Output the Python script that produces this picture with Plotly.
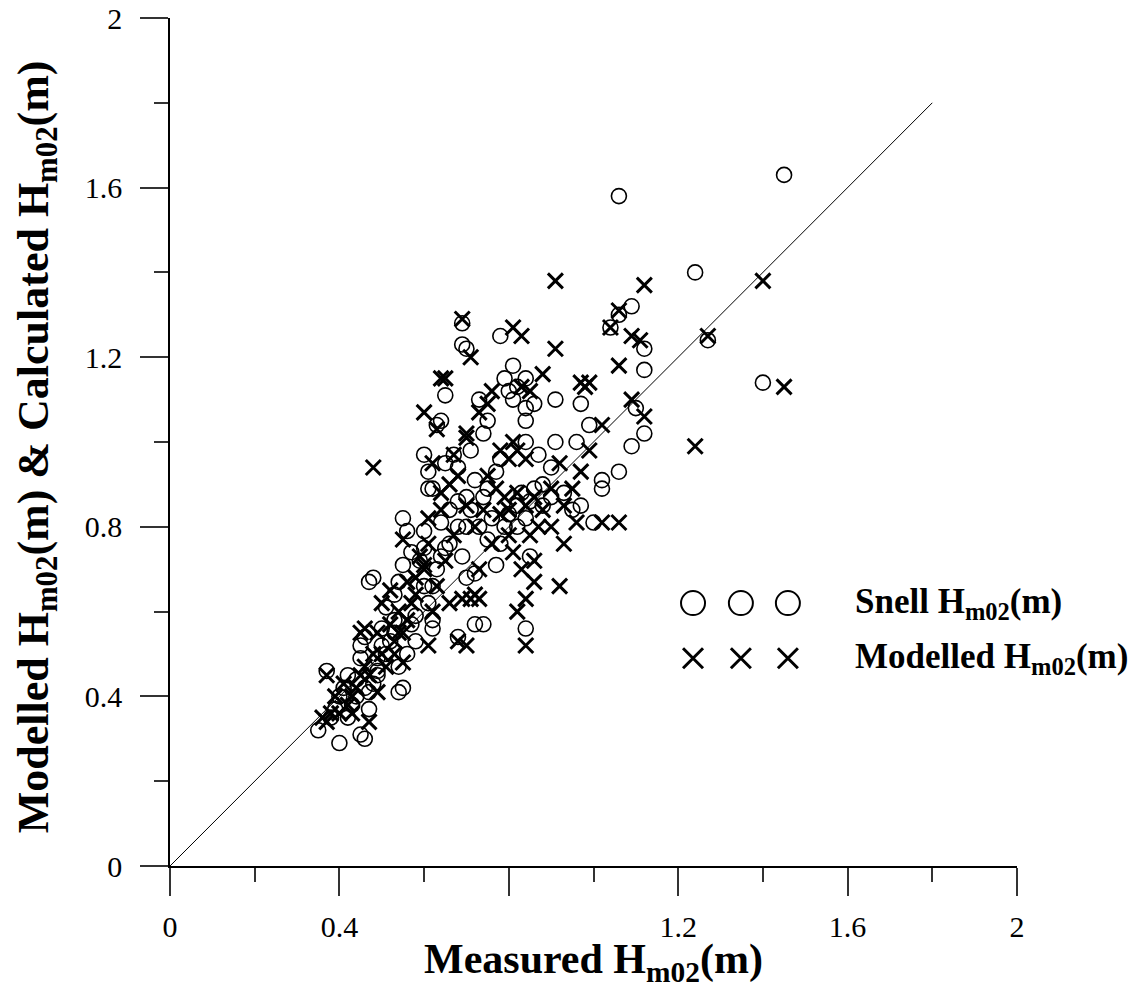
import plotly.graph_objects as go

# Snell H_m02 (circles): measured vs calculated
snell_x = [1.45, 1.06, 1.24, 1.40, 1.27, 1.09, 1.06, 1.04, 1.12, 1.12, 1.10, 1.12, 1.09, 1.06, 1.02, 1.02,
           1.00, 0.99, 0.96, 0.97, 0.97, 0.93, 0.95, 0.91, 0.91, 0.88, 0.90, 0.84, 0.85, 0.84, 0.84, 0.84,
           0.84, 0.86, 0.87, 0.78, 0.81, 0.79, 0.80, 0.81, 0.82, 0.75, 0.73, 0.74, 0.69, 0.70, 0.69, 0.65,
           0.63, 0.64, 0.60, 0.61, 0.61, 0.62, 0.65, 0.67, 0.68, 0.71, 0.72, 0.70, 0.75, 0.77, 0.78, 0.76,
           0.75, 0.77, 0.72, 0.72, 0.74, 0.68, 0.70, 0.69, 0.65, 0.63, 0.62, 0.61, 0.62, 0.62, 0.58, 0.55,
           0.56, 0.55, 0.54, 0.53, 0.51, 0.50, 0.52, 0.49, 0.47, 0.48, 0.46, 0.45, 0.45, 0.44, 0.42, 0.41,
           0.40, 0.39, 0.38, 0.37, 0.35, 0.40, 0.46, 0.45, 0.47, 0.47, 0.48, 0.54, 0.55, 0.54, 0.56, 0.58,
           0.60, 0.59, 0.57, 0.60, 0.60, 0.64, 0.66, 0.68, 0.68, 0.66, 0.64, 0.70, 0.71, 0.73, 0.74, 0.80,
           0.82, 0.83, 0.85, 0.86, 0.88, 0.90, 0.79, 0.78, 0.82, 0.84, 0.43, 0.42, 0.44, 0.46, 0.49, 0.51,
           0.53, 0.57, 0.53, 0.50, 0.49]
snell_y = [1.63, 1.58, 1.40, 1.14, 1.24, 1.32, 1.30, 1.27, 1.22, 1.17, 1.08, 1.02, 0.99, 0.93, 0.91, 0.89,
           0.81, 1.04, 1.00, 1.09, 0.85, 0.88, 0.84, 1.10, 1.00, 0.85, 0.87, 0.56, 0.73, 1.15, 1.08, 1.05,
           1.00, 1.09, 0.97, 1.25, 1.18, 1.15, 1.12, 1.10, 1.13, 1.05, 1.10, 1.02, 1.23, 1.22, 1.28, 1.11,
           1.04, 1.05, 0.97, 0.93, 0.89, 0.89, 0.95, 0.97, 0.94, 0.98, 0.91, 0.87, 0.89, 0.93, 0.96, 0.82,
           0.77, 0.71, 0.69, 0.57, 0.57, 0.54, 0.68, 0.73, 0.75, 0.70, 0.66, 0.62, 0.58, 0.56, 0.59, 0.82,
           0.79, 0.71, 0.67, 0.64, 0.61, 0.56, 0.53, 0.49, 0.67, 0.68, 0.54, 0.52, 0.49, 0.44, 0.45, 0.42,
           0.40, 0.37, 0.35, 0.46, 0.32, 0.29, 0.30, 0.31, 0.37, 0.41, 0.43, 0.41, 0.42, 0.47, 0.50, 0.53,
           0.66, 0.72, 0.74, 0.75, 0.79, 0.81, 0.84, 0.86, 0.80, 0.76, 0.73, 0.80, 0.84, 0.80, 0.87, 0.83,
           0.85, 0.88, 0.86, 0.89, 0.90, 0.94, 0.80, 0.76, 0.80, 0.82, 0.38, 0.35, 0.40, 0.42, 0.46, 0.50,
           0.55, 0.57, 0.58, 0.52, 0.45]

# Modelled H_m02 (crosses): measured vs modelled
model_x = [1.40, 1.45, 1.24, 1.27, 1.06, 1.04, 1.12, 1.11, 1.09, 1.12, 1.09, 1.06, 1.06, 1.02, 1.02, 0.99,
           0.98, 0.97, 0.99, 0.97, 0.95, 0.96, 0.93, 0.92, 0.91, 0.91, 0.88, 0.92, 0.90, 0.87, 0.86, 0.84,
           0.84, 0.86, 0.82, 0.81, 0.80, 0.81, 0.83, 0.81, 0.82, 0.84, 0.85, 0.83, 0.79, 0.78, 0.76, 0.75,
           0.73, 0.77, 0.76, 0.73, 0.72, 0.71, 0.69, 0.70, 0.68, 0.73, 0.69, 0.71, 0.70, 0.70, 0.65, 0.64,
           0.60, 0.63, 0.62, 0.66, 0.67, 0.68, 0.64, 0.65, 0.66, 0.62, 0.61, 0.60, 0.61, 0.60, 0.59, 0.56,
           0.55, 0.54, 0.54, 0.53, 0.55, 0.55, 0.57, 0.48, 0.52, 0.50, 0.49, 0.48, 0.47, 0.46, 0.45, 0.44,
           0.43, 0.42, 0.41, 0.40, 0.39, 0.38, 0.37, 0.36, 0.37, 0.47, 0.43, 0.45, 0.49, 0.51, 0.52, 0.56,
           0.58, 0.63, 0.67, 0.70, 0.72, 0.74, 0.78, 0.80, 0.82, 0.84, 0.86, 0.88, 0.90, 0.93, 0.83, 0.85,
           0.80, 0.75, 0.46, 0.50, 0.53, 0.58, 0.61, 0.64]
model_y = [1.38, 1.13, 0.99, 1.25, 1.31, 1.27, 1.37, 1.24, 1.25, 1.06, 1.10, 1.18, 0.81, 0.81, 1.04, 1.14,
           1.13, 1.14, 0.98, 0.93, 0.89, 0.81, 0.76, 0.66, 1.38, 1.22, 1.16, 0.95, 0.89, 0.80, 0.72, 0.63,
           0.52, 0.67, 0.60, 0.74, 0.78, 1.27, 1.25, 1.00, 0.98, 0.96, 1.12, 1.13, 0.87, 0.98, 1.12, 1.09,
           1.07, 0.89, 0.76, 0.70, 0.64, 0.63, 0.63, 0.52, 0.53, 0.63, 1.29, 1.20, 1.02, 1.01, 1.15, 1.15,
           1.07, 1.03, 0.95, 0.90, 0.97, 0.92, 0.84, 0.72, 0.62, 0.60, 0.52, 0.70, 0.76, 0.71, 0.73, 0.67,
           0.77, 0.60, 0.55, 0.53, 0.55, 0.48, 0.62, 0.94, 0.65, 0.62, 0.55, 0.50, 0.45, 0.47, 0.55, 0.42,
           0.40, 0.38, 0.43, 0.36, 0.40, 0.36, 0.34, 0.35, 0.45, 0.34, 0.36, 0.45, 0.41, 0.47, 0.57, 0.58,
           0.64, 0.66, 0.78, 0.85, 0.80, 0.84, 0.83, 0.84, 0.88, 0.85, 0.87, 0.84, 0.80, 0.85, 0.70, 0.78,
           0.96, 0.92, 0.56, 0.50, 0.50, 0.68, 0.82, 0.88]

# 1:1 reference line
line_x = [0, 1.8]
line_y = [0, 1.8]

tick_vals = [0, 0.4, 0.8, 1.2, 1.6, 2.0]
x_tick_text = ["0", "0.4", "", "1.2", "1.6", "2"]
y_tick_text = ["0", "0.4", "0.8", "1.2", "1.6", "2"]
minor_vals = [0.2, 0.6, 1.0, 1.4, 1.8]

# legend sample markers (three per entry)
legend_x = [1.235, 1.348, 1.459]
legend_text_x = 1.612
legend_y_snell = 0.62
legend_y_model = 0.49

FONT = "Liberation Serif"

fig = go.Figure()
fig.add_trace(go.Scatter(x=line_x, y=line_y, mode="lines",
                         line=dict(color="black", width=1), showlegend=False, hoverinfo="skip"))
fig.add_trace(go.Scatter(x=snell_x, y=snell_y, mode="markers", name="Snell",
                         marker=dict(symbol="circle-open", size=15, color="black", line=dict(width=1.6)),
                         showlegend=False))
fig.add_trace(go.Scatter(x=model_x, y=model_y, mode="markers", name="Modelled",
                         marker=dict(symbol="x-thin-open", size=15, color="black", line=dict(width=3)),
                         showlegend=False))
# legend samples
fig.add_trace(go.Scatter(x=legend_x, y=[legend_y_snell] * 3, mode="markers",
                         marker=dict(symbol="circle-open", size=24, color="black", line=dict(width=2)),
                         showlegend=False, hoverinfo="skip", cliponaxis=False))
fig.add_trace(go.Scatter(x=legend_x, y=[legend_y_model] * 3, mode="markers",
                         marker=dict(symbol="x-thin-open", size=20, color="black", line=dict(width=3)),
                         showlegend=False, hoverinfo="skip", cliponaxis=False))

fig.add_annotation(x=legend_text_x, y=legend_y_snell, xref="x", yref="y", xanchor="left", yanchor="middle",
                   text="<b>Snell H<sub>m02</sub>(m)</b>", showarrow=False,
                   font=dict(family=FONT, size=35, color="black"))
fig.add_annotation(x=legend_text_x, y=legend_y_model, xref="x", yref="y", xanchor="left", yanchor="middle",
                   text="<b>Modelled H<sub>m02</sub>(m)</b>", showarrow=False,
                   font=dict(family=FONT, size=35, color="black"))

# axis titles
fig.add_annotation(x=0.5, y=-0.113, xref="paper", yref="paper", xanchor="center", yanchor="middle",
                   text="<b>Measured H<sub>m02</sub>(m)</b>", showarrow=False,
                   font=dict(family=FONT, size=42, color="black"))
fig.add_annotation(x=-0.158, y=0.494, xref="paper", yref="paper", xanchor="center", yanchor="middle",
                   text="<b>Modelled H<sub>m02</sub>(m) &amp; Calculated H<sub>m02</sub>(m)</b>",
                   textangle=-90, showarrow=False,
                   font=dict(family=FONT, size=44, color="black"))

axis_common = dict(range=[0, 2], tickvals=tick_vals, automargin=False,
                   showgrid=False, zeroline=False, showline=True, linecolor="black", linewidth=1.5,
                   ticks="outside", ticklen=28, tickwidth=1.5, tickcolor="#333",
                   minor=dict(tickvals=minor_vals, ticks="outside", ticklen=14,
                              tickwidth=1.5, tickcolor="#333", showgrid=False),
                   tickfont=dict(family=FONT, size=30, color="black"))

fig.update_xaxes(**axis_common, ticktext=x_tick_text, ticklabelstandoff=5)
fig.update_yaxes(**axis_common, ticktext=y_tick_text, ticklabelstandoff=12)

fig.update_layout(width=1130, height=993, margin=dict(l=170, r=113, t=18, b=127),
                  plot_bgcolor="white", paper_bgcolor="white", showlegend=False)

fig.write_html("out.html")
